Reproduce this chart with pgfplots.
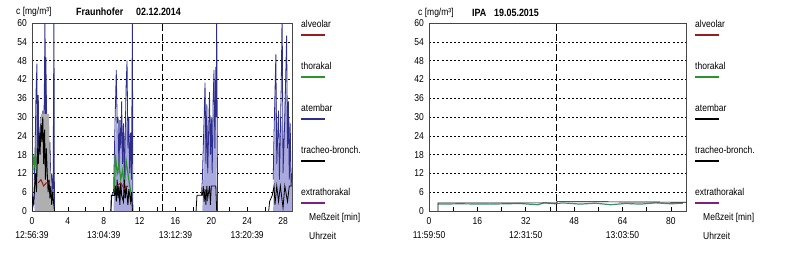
\documentclass[border=0pt]{standalone}
\usepackage{pgfplots}
\pgfplotsset{compat=1.18}
\usepackage{fontspec}
\setmainfont{Liberation Sans}[FakeStretch=0.85]
\definecolor{navy}{RGB}{45,45,140}
\definecolor{lav}{RGB}{170,170,220}
\definecolor{lgray}{RGB}{175,175,175}
\definecolor{alv}{RGB}{150,30,30}
\definecolor{thor}{RGB}{40,150,40}
\definecolor{extra}{RGB}{130,30,130}
\definecolor{teal2}{RGB}{60,140,110}
\definecolor{axc}{RGB}{70,70,70}
\pgfplotsset{
  base/.style={
    scale only axis, anchor=south west, height=188pt,
    ymin=0, ymax=60, ytick={0,6,...,60},
    /pgf/number format/assume math mode=true,
    axis line style={axc, line width=0.9pt},
    ymajorgrids, grid style={black, line width=0.6pt, dash pattern=on 2pt off 2.2pt},
    tick align=inside, xtick pos=bottom, ytick pos=left,
    major tick length=4pt, minor tick length=4pt,
    xtick style={black, line width=0.6pt},
    ytick style={draw=none},
    xticklabel style={align=center, font=\fontsize{10}{14}\selectfont, inner sep=0pt, yshift=-6pt},
    yticklabel style={font=\fontsize{10}{12}\selectfont, inner sep=0pt, xshift=-5pt},
  }
}
\begin{document}
\begin{tikzpicture}
\path[use as bounding box] (0,0) rectangle (800pt,254pt);
% ---------------- left chart ----------------
\begin{axis}[base, at={(32pt,43pt)}, width=260pt, xmin=0, xmax=29,
  xtick={0,4,...,28}, minor xtick={2,6,...,26},
  xticklabels={{0\\12:56:39},{4},{8\\13:04:39},{12},{16\\13:12:39},{20},{24\\13:20:39},{28}}]
% lavender fills (atembar)
\addplot[fill=lav, draw=none] coordinates {(0.3,0)(0.5,35)(0.7,25)(1.0,28)(1.4,30)(1.6,40)(1.8,20)(2.0,15)(2.4,5)(2.4,0)};
\addplot[fill=lav, draw=none] coordinates {(9.1,0)(9.2,15)(9.4,30)(9.6,25)(9.8,22)(10.0,28)(10.2,20)(10.5,30)(10.7,25)(11.0,18)(11.2,10)(11.2,0)};
\addplot[fill=lav, draw=none] coordinates {(19.0,0)(19.1,10)(19.3,35)(19.5,28)(19.7,20)(19.8,32)(20.0,25)(20.2,30)(20.4,40)(20.5,42)(20.6,20)(20.6,0)};
\addplot[fill=lav, draw=none] coordinates {(26.9,0)(27.0,15)(27.2,40)(27.4,25)(27.6,15)(27.8,30)(28.0,20)(28.3,45)(28.5,25)(28.7,30)(28.9,15)(29,10)(29,0)};
% atembar lines
\addplot[navy, line width=0.8pt] coordinates {(0,0)(0.05,5)(0.2,3)(0.35,20)(0.45,38)(0.55,47)(0.62,10)(0.7,37)(0.8,15)(0.9,25)(1.0,30)(1.1,12)(1.2,32)(1.3,20)(1.4,45)(1.45,65)(1.5,20)(1.55,49)(1.65,25)(1.8,30)(1.9,15)(2.0,22)(2.1,8)(2.2,12)(2.35,5)(2.45,65)(2.5,0)};
\addplot[navy, line width=0.8pt] coordinates {(8.8,0)(8.9,5)(9.1,6)(9.2,20)(9.3,33)(9.4,45)(9.5,28)(9.6,30)(9.7,12)(9.8,29)(9.9,20)(10.0,35)(10.1,15)(10.2,28)(10.3,10)(10.4,25)(10.5,40)(10.6,48)(10.7,20)(10.8,30)(10.9,12)(11.0,25)(11.1,10)(11.2,65)(11.25,0)};
\addplot[navy, line width=0.8pt] coordinates {(18.9,5)(19.0,10)(19.2,30)(19.3,41)(19.4,15)(19.5,34)(19.6,12)(19.7,25)(19.8,38)(19.9,18)(20.0,30)(20.1,12)(20.2,35)(20.3,45)(20.4,20)(20.5,46)(20.55,30)(20.6,65)(20.7,0)};
\addplot[navy, line width=0.8pt] coordinates {(26.9,10)(27.0,25)(27.2,50)(27.3,15)(27.5,32)(27.6,10)(27.8,40)(27.9,65)(28.0,12)(28.2,30)(28.4,56)(28.5,20)(28.6,35)(28.7,10)(28.8,28)(28.9,8)(29,12)};
% gray fill (tracheo envelope)
\addplot[fill=lgray, draw=none] coordinates {(0.5,0)(0.6,15)(0.9,28)(1.0,31)(1.9,31)(2.0,15)(2.2,8)(2.4,0)};
% thorakal
\addplot[thor, line width=0.9pt] coordinates {(0.1,12)(0.2,18)(0.3,14)(0.4,20)(0.5,10)};
\addplot[thor, line width=1.2pt] coordinates {(9.2,5)(9.3,18)(9.5,12)(9.7,15)(9.9,10)(10.1,13)(10.3,8)(10.5,16)(10.7,12)(10.9,8)(11.1,5)};
% tracheo-bronch
\addplot[black, line width=0.9pt] coordinates {(0,0)(0.05,4)(0.2,2)(0.3,8)(0.4,12)(0.5,6)(0.6,20)(0.7,15)(0.8,25)(0.9,18)(1.0,28)(1.1,22)(1.2,30)(1.3,15)(1.4,26)(1.5,10)(1.6,20)(1.7,12)(1.8,6)(1.9,10)(2.0,4)(2.1,8)(2.2,2)(2.3,6)(2.4,3)(2.5,0)};
\addplot[black, line width=0.9pt] coordinates {(8.8,0)(8.85,5)(9.2,5)(9.3,8)(9.4,3)(9.5,10)(9.6,4)(9.7,8)(9.8,2)(9.9,9)(10.0,5)(10.2,3)(10.3,10)(10.4,4)(10.5,8)(10.7,2)(10.8,7)(11.0,3)(11.1,6)(11.2,0)};
\addplot[black, line width=0.8pt] coordinates {(18.3,0)(18.4,5)(19.0,5)(19.1,8)(19.2,3)(19.3,7)(19.4,2)(19.5,8)(19.6,4)(19.8,8)(19.9,2)(20.0,8)(20.5,8)(20.6,0)};
\addplot[black, line width=0.8pt] coordinates {(26.4,0)(26.5,3)(26.8,5)(27.0,8)(27.1,2)(27.3,8)(27.5,3)(27.7,8)(28.0,1)(28.2,8)(28.5,3)(28.7,8)(29,8)};
% alveolar
\addplot[alv, line width=1pt] coordinates {(0.7,9)(1.0,10)(1.3,8)(1.6,9)(1.9,9)};
\addplot[alv, line width=1pt] coordinates {(9.5,8)(9.9,9)(10.3,7)(10.7,8)};
% dashed marker
\addplot[black, line width=1pt, dash pattern=on 7pt off 3pt] coordinates {(14.5,0)(14.5,60)};
\end{axis}
% ---------------- right chart ----------------
\begin{axis}[base, at={(429pt,43pt)}, width=257pt, xmin=0, xmax=85,
  xtick={0,16,...,80}, minor xtick={8,24,...,72},
  xticklabels={{0\\11:59:50},{16},{32\\12:31:50},{48},{64\\13:03:50},{80}}]
\addplot[teal2, line width=1.2pt] coordinates {(3,2.2)(10,2.3)(20,2.2)(30,2.4)(36,2.0)(38,2.6)(42,2.3)(44,2.6)(50,2.2)(55,2.5)(60,2.0)(65,2.4)(70,2.2)(75,2.6)(80,2.3)(84,2.5)};
\addplot[black, line width=0.7pt] coordinates {(3,0)(3,2.6)(42.3,2.6)(42.3,3)(85,2.8)};
\addplot[black, line width=1pt, dash pattern=on 7pt off 3pt] coordinates {(42.3,0)(42.3,60)};
\end{axis}
% ---------------- texts ----------------
\begin{scope}[every node/.style={anchor=west, inner sep=0pt, font=\fontsize{10}{12}\selectfont}]
\node at (16pt,242pt) {c [mg/m³]};
\node[font=\fontsize{10.5}{12}\bfseries] at (76pt,242pt) {Fraunhofer};
\node[font=\fontsize{10.5}{12}\bfseries] at (136pt,242pt) {02.12.2014};
\node at (418pt,241pt) {c [mg/m³]};
\node[font=\fontsize{10.5}{12}\bfseries] at (472pt,241pt) {IPA};
\node[font=\fontsize{10.5}{12}\bfseries] at (494pt,241pt) {19.05.2015};
\foreach \X/\A in {301/navy,695/black}{
  \node at (\X pt,230pt) {alveolar};
  \draw[alv, line width=1.5pt] (\X pt,219pt) -- ++(24pt,0);
  \node at (\X pt,188pt) {thorakal};
  \draw[thor, line width=1.5pt] (\X pt,177pt) -- ++(24pt,0);
  \node at (\X pt,146pt) {atembar};
  \draw[\A, line width=1.5pt] (\X pt,135pt) -- ++(24pt,0);
  \node at (\X pt,104pt) {tracheo-bronch.};
  \draw[black, line width=1.5pt] (\X pt,93pt) -- ++(24pt,0);
  \node at (\X pt,62pt) {extrathorakal};
  \draw[extra, line width=1.5pt] (\X pt,51pt) -- ++(24pt,0);
}
\node at (309pt,36pt) {Meßzeit [min]};
\node at (309pt,18pt) {Uhrzeit};
\node at (703pt,36pt) {Meßzeit [min]};
\node at (703pt,18pt) {Uhrzeit};
\end{scope}
\end{tikzpicture}
\end{document}
